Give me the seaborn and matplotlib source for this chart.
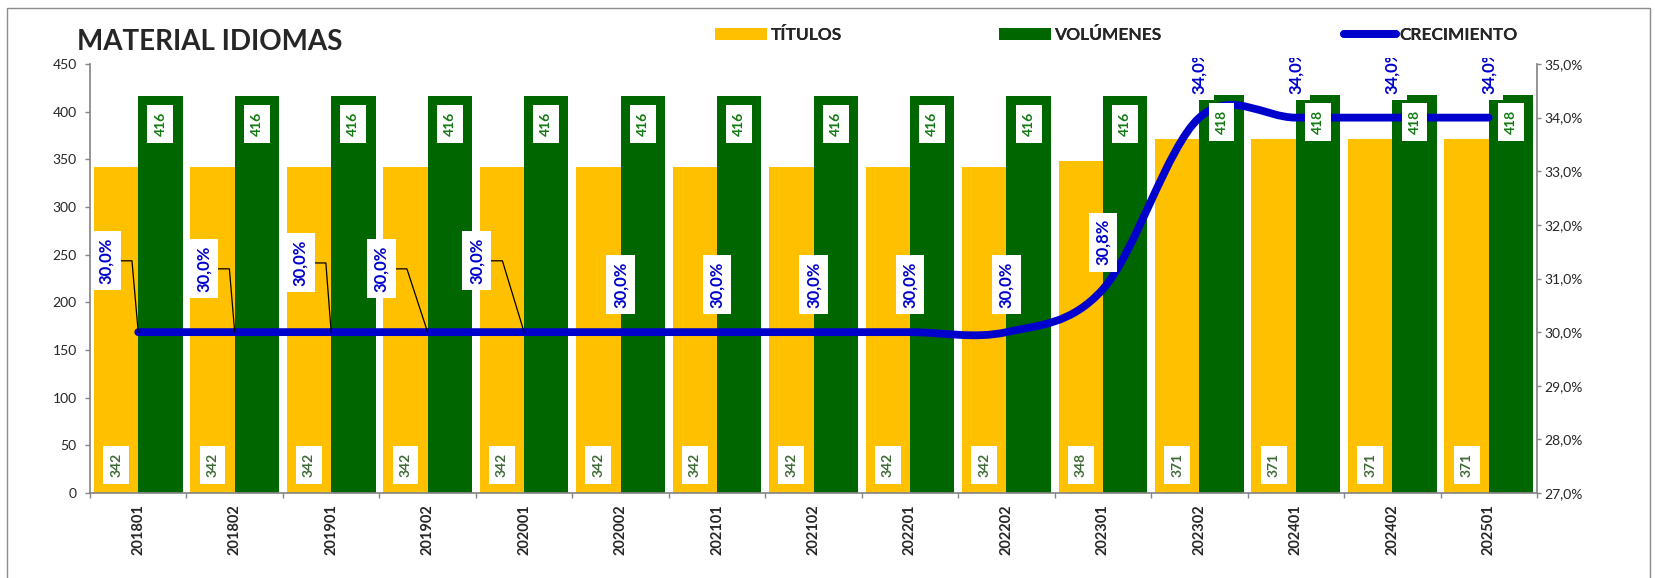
import numpy as np
import pandas as pd
import seaborn as sns
import matplotlib.pyplot as plt
from matplotlib.path import Path
from matplotlib.patches import PathPatch, Patch, Rectangle
from matplotlib.lines import Line2D
from matplotlib.transforms import Bbox

# datos
periodos = ['201801', '201802', '201901', '201902', '202001', '202002', '202101', '202102',
            '202201', '202202', '202301', '202302', '202401', '202402', '202501']
titulos = [342, 342, 342, 342, 342, 342, 342, 342, 342, 342, 348, 371, 371, 371, 371]
volumenes = [416, 416, 416, 416, 416, 416, 416, 416, 416, 416, 416, 418, 418, 418, 418]
crecimiento = [30.0, 30.0, 30.0, 30.0, 30.0, 30.0, 30.0, 30.0, 30.0, 30.0, 30.8, 34.0, 34.0, 34.0, 34.0]
ticks_izq = [0, 50, 100, 150, 200, 250, 300, 350, 400, 450]
ticks_der = [27, 28, 29, 30, 31, 32, 33, 34, 35]

AMARILLO = '#FFC000'
VERDE = '#006600'
AZUL = '#0000CC'
GRIS = '#868686'

sns.set_theme(style='white')
plt.rcParams['font.family'] = ['Lato', 'DejaVu Sans']

W, H = 1655, 578
n = len(periodos)
fig = plt.figure(figsize=(W / 100, H / 100), dpi=100)
ax = fig.add_axes([90 / W, 1 - 493 / H, (1537 - 90) / W, (493 - 64) / H])

df = pd.DataFrame({
    'periodo': periodos * 2,
    'serie': ['TÍTULOS'] * n + ['VOLÚMENES'] * n,
    'valor': titulos + volumenes,
})
sns.barplot(data=df, x='periodo', y='valor', hue='serie', palette=[AMARILLO, VERDE],
            width=0.92, saturation=1, legend=False, ax=ax, linewidth=0)
ax.set_xlim(-0.5, n - 0.5)
ax.set_ylim(0, 450)
ax.set_xlabel('')
ax.set_ylabel('')

ax2 = ax.twinx()
ax2.set_ylim(27, 35)

# línea suavizada (bezier tipo catmull-rom sobre los puntos)
x = np.arange(n, dtype=float)
y = np.array(crecimiento)
verts = [(x[0], y[0])]
codes = [Path.MOVETO]
for i in range(n - 1):
    a = max(i - 1, 0)
    b = min(i + 2, n - 1)
    c1 = (x[i] + (x[i + 1] - x[a]) / 6, y[i] + (y[i + 1] - y[a]) / 6)
    c2 = (x[i + 1] - (x[b] - x[i]) / 6, y[i + 1] - (y[b] - y[i]) / 6)
    verts += [c1, c2, (x[i + 1], y[i + 1])]
    codes += [Path.CURVE4] * 3
linea = PathPatch(Path(verts, codes), fill=False, edgecolor=AZUL, lw=5.6,
                  capstyle='round', joinstyle='round', zorder=3)
ax2.add_patch(linea)

# etiquetas de barras
for i, v in enumerate(titulos):
    ax2.text(i - 0.23, 29, str(v), transform=ax.transData, rotation=90, ha='center', va='center',
             fontsize=10, fontweight='bold', color='#3E6B35', zorder=6,
             bbox=dict(boxstyle='square,pad=0.5', fc='white', ec='none'))
for i, v in enumerate(volumenes):
    ax2.text(i + 0.23, v - 29, str(v), transform=ax.transData, rotation=90, ha='center', va='center',
             fontsize=10, fontweight='bold', color='#127A12', zorder=6,
             bbox=dict(boxstyle='square,pad=0.5', fc='white', ec='none'))

# etiquetas de crecimiento: las primeras cinco con guía
recorte = Bbox([[0, 0], [W, H - 58]])
guias = [(-0.33, 1.33), (-0.32, 1.18), (-0.32, 1.29), (-0.48, 1.18), (-0.49, 1.33)]
for i, v in enumerate(crecimiento):
    txt = f'{v:.1f}%'.replace('.', ',')
    if i < len(guias):
        dx, dy = guias[i]
        cx, cy = i + dx, v + dy
        x0 = cx + 0.14
        ax2.plot([x0, x0 + 0.125, i], [cy, cy, v], color='black', lw=0.9, zorder=4)
    else:
        cx, cy = i, v + 0.88
    t = ax2.text(cx, cy, txt, rotation=90, ha='center', va='center', fontsize=12, fontweight='bold',
                 color=AZUL, zorder=7,
                 bbox=dict(boxstyle='square,pad=0.38', fc='white', ec='none'))
    t.set_clip_box(recorte)
    t.set_clip_on(True)

# ejes
ax.set_xticks(range(n))
ax.set_xticklabels(periodos, rotation=90, fontweight='bold', fontsize=10.5)
ax.tick_params(axis='x', which='major', length=0, pad=8)
ax.set_xticks(np.arange(-0.5, n, 1), minor=True)
ax.tick_params(axis='x', which='minor', bottom=True, length=3.6, width=1, color=GRIS, direction='out')
ax.set_yticks(ticks_izq)
ax.tick_params(axis='y', left=True, length=3.6, width=1, color=GRIS, labelsize=10, pad=6)
ax2.set_yticks(ticks_der)
ax2.set_yticklabels([f'{t},0%' for t in ticks_der])
ax2.tick_params(axis='y', right=True, length=3, width=1, color=GRIS, labelsize=10, pad=2.5)

for s in ['top', 'right']:
    ax.spines[s].set_visible(False)
for s in ['top', 'left', 'bottom']:
    ax2.spines[s].set_visible(False)
for s in ['left', 'bottom']:
    ax.spines[s].set_color(GRIS)
ax2.spines['right'].set_color(GRIS)

# título y leyenda
fig.text(77 / W, 1 - 42 / H, 'MATERIAL IDIOMAS', fontsize=20, fontweight='bold', ha='left', va='center')
entradas = [
    (Patch(fc=AMARILLO, ec='none'), 'TÍTULOS', 715),
    (Patch(fc=VERDE, ec='none'), 'VOLÚMENES', 999),
    (Line2D([], [], color=AZUL, lw=5.6, solid_capstyle='round'), 'CRECIMIENTO', 1344),
]
for h, lab, xpx in entradas:
    leg = fig.legend(handles=[h], labels=[lab], loc='center left', bbox_to_anchor=(xpx / W, 1 - 35 / H),
                     frameon=False, borderpad=0, borderaxespad=0, handlelength=3.0, handleheight=0.72,
                     handletextpad=0.2, prop={'weight': 'bold', 'size': 12.5})
    fig.add_artist(leg)

fig.add_artist(Rectangle((7 / W, -0.05), (1650 - 7) / W, 1.05 - 8 / H, transform=fig.transFigure,
                         fill=False, ec='#8C8C8C', lw=1))

fig.savefig('out.png', dpi=100)
